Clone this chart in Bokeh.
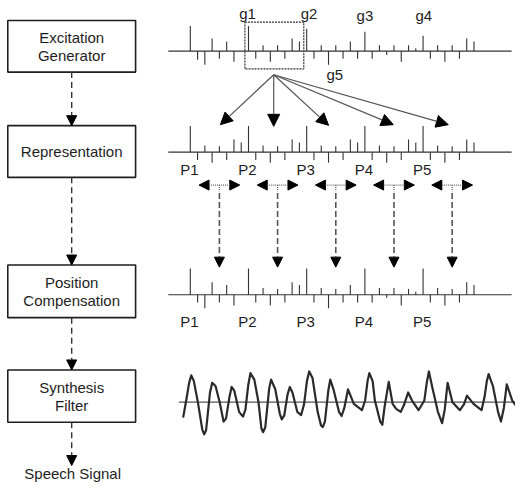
from bokeh.plotting import figure
from bokeh.models import Range1d, Arrow, NormalHead, ColumnDataSource
from bokeh.core.properties import value
from bokeh.embed import file_html
from bokeh.resources import INLINE

# ---------------- data ----------------
stage_lines = [["Excitation", "Generator"], ["Representation"],
               ["Position", "Compensation"], ["Synthesis", "Filter"]]
output_label = "Speech Signal"

# pulse amplitudes on a regular sample grid (40 slots)
excitation_amp = [26, -9, -14, 13, -8, 10, -11, 0,
                  26, -8, 6, -11, 6, -8, 13, 10,
                  23, -8, 6, -14, 6, -8, 10, -8,
                  20, -8, 6, -4, 6, -11, 6, 3,
                  16, -8, 6, -11, 6, -8, 13, 10]
representation_amp = [27, -8, 7, -11, 6, -8, 13, 10] * 5
compensated_amp = [27, -8, -14, 13, -8, 10, -11, 0,
                   27, -8, 7, -11, 6, -8, 13, 10,
                   27, -8, 7, -14, 6, -8, 10, -8,
                   27, -8, 7, -3, 7, -11, 6, 3,
                   27, -8, 7, -11, 6, -8, 13, 10]

gain_labels = ["g1", "g2", "g3", "g4", "g5"]
gain_slots = [8, 16, 24, 32, 19]
period_labels = ["P1", "P2", "P3", "P4", "P5"]
period_slots = [0, 8, 16, 24, 32]
centre_slots = [4, 12, 20, 28, 36]

# synthesized speech waveform (time offset, amplitude)
wave_t = [0.3, 3.5, 6.5, 8.7, 11.3, 15.5, 20, 22, 24, 28, 30.3, 33.7, 38, 42, 44.5,
          48, 50.3, 53, 58, 62, 64.5, 67.5, 69.7, 73.7, 78, 81, 82.7, 85, 89, 91,
          95.3, 100, 102, 104.5, 108, 110.3, 113, 118, 122, 125, 128, 130.3, 133.7,
          139, 142.5, 144.3, 146.5, 150, 152, 155.3, 161, 163.7, 166.5, 170.3, 176.3,
          184.7, 188, 190.5, 192.3, 195.7, 198, 203.5, 205.7, 208, 212.3, 216.3, 220,
          224.7, 228, 232.3, 236.3, 243, 249, 251.5, 253.7, 257.3, 263, 267.3, 270,
          273, 278, 285.7, 290, 293, 299.7, 308, 311, 313.5, 315.3, 319.7, 325, 328,
          331, 334, 339.7, 343]
wave_v = [-16, 2, 20, 27.7, 22, 0, -28, -33.3, -29, 10, 20, 16.7, 0, -20, -17,
          5, 15.7, 12, -10, -15, -8, 18, 30, 23.3, 0, -27, -31, -26, 14, 23.3,
          13.3, -12, -17.7, -14, 8, 15.7, 10, -10, -13.3, -2, 22, 31.7, 25,
          -10, -24, -25.7, -20, 12, 23.3, 13.3, -10, -14.3, -6, 13.3, -1.7,
          -8.3, 2, 22, 30, 21.7, 1.7, -20, -23.3, -5, 21, -1.7, -7,
          -10, -3, 10, 1.7, -8.3, 1.7, 20, 31.7, 15, -10, -21.7, -8,
          20, 0, -8.3, -2, 6.7, -1.7, -8.3, 5, 22, 29, 16.7, -10, -20,
          -6, 18.3, 1.7, -3]

# ---------------- canvas (reference pixel coordinates, y downward) ----------------
p = figure(width=515, height=482, output_backend="svg", toolbar_location=None,
           x_range=Range1d(0, 531), y_range=Range1d(498, 0),
           min_border=0, outline_line_color=None, background_fill_color="white")
p.axis.visible = False
p.grid.visible = False

FONT = value("Liberation Sans")
FS = "15px"
INK = "#1e1e1e"

# left column: boxes
box_top = [20.7, 129.3, 273.3, 381.7]
box_bot = [74, 182.7, 327.7, 435.7]
bx0, bx1 = 7.5, 139.3
cx = (bx0 + bx1) / 2
p.quad(left=[bx0] * 4, right=[bx1] * 4, top=box_top, bottom=box_bot,
       fill_color="white", line_color=INK, line_width=1.6)
tx, ty, tt = [], [], []
for lines, t, b in zip(stage_lines, box_top, box_bot):
    mid = (t + b) / 2
    n = len(lines)
    for k, s in enumerate(lines):
        tx.append(cx)
        ty.append(mid + (k - (n - 1) / 2) * 18.5)
        tt.append(s)
tx.append(cx + 1)
ty.append(488.5)
tt.append(output_label)
p.text(x=tx, y=ty, text=tt, text_align="center", text_baseline="middle",
       text_font=FONT, text_font_size=FS, text_color=INK)

# dashed vertical arrows between boxes
ends = box_top[1:] + [480.5]
for b, e in zip(box_bot, ends):
    p.add_layout(Arrow(end=NormalHead(size=10, fill_color="black", line_color="black"),
                       x_start=cx, y_start=b, x_end=cx, y_end=e,
                       line_color="#333", line_width=1.4, line_dash="6 4"))

# pulse rows
slot0, step = 195.7, 7.5
def slot_x(i):
    return slot0 + step * i

def pulse_row(amps, base):
    xs = [slot_x(i) for i, a in enumerate(amps) if a != 0]
    y0 = [base] * len(xs)
    y1 = [base - a for a in amps if a != 0]
    p.segment(x0=xs, y0=y0, x1=xs, y1=y1, line_color="#333", line_width=1.1)
    p.segment(x0=[173], y0=[base], x1=[527], y1=[base], line_color="#333", line_width=1.1)

base1, base2, base3 = 52.3, 156.7, 304
pulse_row(excitation_amp, base1)
pulse_row(representation_amp, base2)
pulse_row(compensated_amp, base3)

# gain labels
g_dx = [-1, 2.5, 0, 0.7, 6.5]
g_y = [13, 13, 15, 15, 76]
p.text(x=[slot_x(s) + d for s, d in zip(gain_slots, g_dx)], y=g_y, text=gain_labels,
       text_align="center", text_baseline="middle", text_font=FONT,
       text_font_size=FS, text_color=INK)

# dotted selection box
p.quad(left=[252], right=[312.7], top=[22.3], bottom=[70.7], fill_color=None,
       line_color="#333", line_width=1.2, line_dash="2 1")

# period labels
for yy in (175, 331.7):
    p.text(x=[slot_x(s) - 1 for s in period_slots], y=[yy] * 5, text=period_labels,
           text_align="center", text_baseline="middle", text_font=FONT,
           text_font_size=FS, text_color=INK)

# fan of arrows
fan_origin = (281.7, 76.7)
fan_tips = [(226.7, 128.3), (281.7, 130), (338.3, 129), (405, 128.3), (461.7, 128.3)]
for (ex, ey) in fan_tips:
    p.add_layout(Arrow(end=NormalHead(size=12, fill_color="black", line_color="black"),
                       x_start=fan_origin[0], y_start=fan_origin[1], x_end=ex, y_end=ey,
                       line_color="#555", line_width=1.2))

# double arrows and dashed connectors
for s in centre_slots:
    c = slot_x(s)
    p.add_layout(Arrow(start=NormalHead(size=10, fill_color="black", line_color="black"),
                       end=NormalHead(size=10, fill_color="black", line_color="black"),
                       x_start=c - 21, y_start=190.7, x_end=c + 21, y_end=190.7,
                       line_color="#666", line_width=1.3, line_dash="1 1"))
    p.segment(x0=[c], y0=[190.7], x1=[c], y1=[197], line_color="#666", line_width=1.3,
              line_dash="1 1")
    p.add_layout(Arrow(end=NormalHead(size=10, fill_color="black", line_color="black"),
                       x_start=c, y_start=199, x_end=c, y_end=275.5,
                       line_color="#555", line_width=1.6, line_dash="6 3"))

# waveform
wave_x0, wave_base = 188, 415
p.segment(x0=[184], y0=[wave_base], x1=[531], y1=[wave_base], line_color="#555", line_width=1.2)
src = ColumnDataSource(dict(x=[wave_x0 + t for t in wave_t], y=[wave_base - v for v in wave_v]))
p.line(x="x", y="y", source=src, line_color="#2a2a2a", line_width=2.2, line_join="round")

open("out.html", "w").write(file_html(p, INLINE))
